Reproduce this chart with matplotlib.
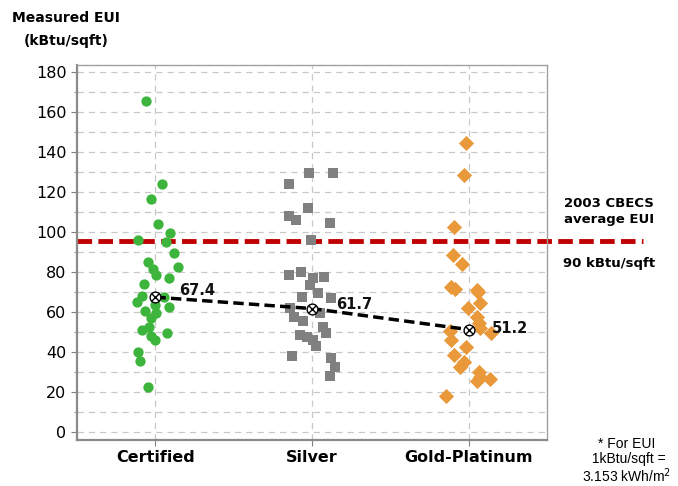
import numpy as np
import matplotlib
matplotlib.use("Agg")
import matplotlib.pyplot as plt
from matplotlib.ticker import MultipleLocator

# categories and summary values
categories = ["Certified", "Silver", "Gold-Platinum"]
means = [67.4, 61.7, 51.2]
cbecs_avg = 95.5

# measured EUI (kBtu/sqft) per building
certified_eui = [165.3, 124, 116.7, 104, 99.3, 96, 95.2, 89.7, 84.8, 82.3, 81.3, 78.5,
                 76.8, 73.8, 68, 65.2, 67.3, 62.7, 63.5, 60.7, 59.3, 56.8, 51, 52.7,
                 49.7, 48, 46, 40.2, 35.7, 22.7]
certified_jit = [-0.06, 0.045, -0.025, 0.015, 0.095, -0.11, 0.065, 0.12, -0.05, 0.145,
                 -0.015, 0.005, 0.085, -0.07, -0.085, -0.12, 0.055, 0.085, -0.005, -0.065,
                 0.005, -0.03, -0.085, -0.04, 0.075, -0.025, -0.005, -0.11, -0.1, -0.045]

silver_eui = [129.7, 129.7, 124, 112.2, 108, 106, 104.7, 96, 78.5, 79.8, 76.8, 77.7,
              73.5, 69.3, 67.7, 66.8, 61.8, 57.3, 55.5, 59.3, 52.7, 49.3, 48.5, 47.7,
              46, 43, 38.2, 37.2, 32.3, 28]
silver_jit = [-0.02, 0.135, -0.145, -0.025, -0.145, -0.1, 0.115, -0.005, -0.145, -0.07,
              0.005, 0.075, -0.015, 0.04, -0.065, 0.12, -0.14, -0.115, -0.055, 0.05,
              0.07, 0.09, -0.075, -0.035, 0.005, 0.025, -0.13, 0.12, 0.145, 0.115]

gold_eui = [144.7, 128.5, 102.7, 88.5, 84, 72.3, 71.5, 71, 69.8, 64.3, 62.2, 57.7,
            54.3, 51.8, 49.3, 50.7, 46, 42.3, 38.3, 35.2, 32.3, 30.2, 27.7, 25.7,
            26.3, 18]
gold_jit = [-0.015, -0.03, -0.095, -0.1, -0.045, -0.11, -0.085, 0.05, 0.06, 0.07,
            -0.005, 0.055, 0.065, 0.075, 0.14, -0.12, -0.11, -0.015, -0.095, -0.03,
            -0.055, 0.065, 0.075, 0.055, 0.135, -0.145]

fig = plt.figure(figsize=(6.78, 4.86), dpi=100)
ax = fig.add_axes([0.1136, 0.0947, 0.6932, 0.7716])

ax.set_xlim(-0.5, 2.5)
ax.set_ylim(-4, 183.5)

# grid
ax.yaxis.set_major_locator(MultipleLocator(20))
ax.yaxis.set_minor_locator(MultipleLocator(10))
ax.grid(True, which="both", axis="y", ls=(0, (5, 4)), color="#c8c8c8", lw=0.9)
ax.grid(True, which="major", axis="x", ls=(0, (5, 4)), color="#c8c8c8", lw=0.9)
ax.set_axisbelow(True)

# reference line (extends into the right margin)
ax.axhline(cbecs_avg, xmin=0, xmax=1.204, color="#c00000", lw=3.5,
           ls=(0, (3.0, 1.3)), clip_on=False, zorder=2)

# points
x0 = np.arange(len(categories))
ax.scatter(x0[0] + np.array(certified_jit), certified_eui, s=55, marker="o",
           color="#3db53d", linewidths=0, zorder=3)
ax.scatter(x0[1] + np.array(silver_jit), silver_eui, s=50, marker="s",
           color="#808080", linewidths=0, zorder=3)
ax.scatter(x0[2] + np.array(gold_jit), gold_eui, s=60, marker="D",
           color="#e9983a", linewidths=0, zorder=3)

# mean line
ax.plot(x0, means, color="black", lw=2.5, ls=(0, (3, 1.5)), zorder=4)
ax.scatter(x0, means, s=60, marker="o", facecolor="white", edgecolor="black",
           linewidths=1.0, zorder=5)
ax.scatter(x0, means, s=26, marker="x", color="black", linewidths=1.0, zorder=6)
label_dy = [5, 3, 1]
for xi, m, dy in zip(x0, means, label_dy):
    ax.annotate(f"{m:.1f}", (xi, m), xytext=(17, dy), textcoords="offset points",
                fontsize=10.5, fontweight="bold", color="#111111",
                va="center", ha="left", zorder=7)

# axes styling
ax.set_xticks(x0)
ax.set_xticklabels(categories, fontsize=11.5, fontweight="bold")
ax.tick_params(axis="x", length=4, color="#808080", pad=3)
ax.tick_params(axis="y", which="major", length=4, color="#808080", labelsize=11.5)
ax.tick_params(axis="y", which="minor", length=2.5, color="#808080")
for side in ["left", "bottom"]:
    ax.spines[side].set_color("#8a8a8a")
    ax.spines[side].set_linewidth(1.6)
for side in ["top", "right"]:
    ax.spines[side].set_color("#a0a0a0")
    ax.spines[side].set_linewidth(1.0)

# texts
fig.text(66 / 678, 1 - 18 / 486, "Measured EUI", ha="center", va="center",
         fontsize=10, fontweight="semibold")
fig.text(66 / 678, 1 - 41 / 486, "(kBtu/sqft)", ha="center", va="center",
         fontsize=10, fontweight="semibold")
fig.text(609 / 678, 1 - 211 / 486, "2003 CBECS\naverage EUI", ha="center",
         va="center", fontsize=9.5, fontweight="bold", linespacing=1.3)
fig.text(609 / 678, 1 - 264 / 486, "90 kBtu/sqft", ha="center", va="center",
         fontsize=9.5, fontweight="bold")
fig.text(627 / 678, 1 - 461 / 486, "* For EUI\n 1kBtu/sqft =\n3.153 kWh/m$^2$",
         ha="center", va="center", fontsize=10, family="Liberation Sans",
         linespacing=1.05)

fig.savefig("out.png", dpi=100)
